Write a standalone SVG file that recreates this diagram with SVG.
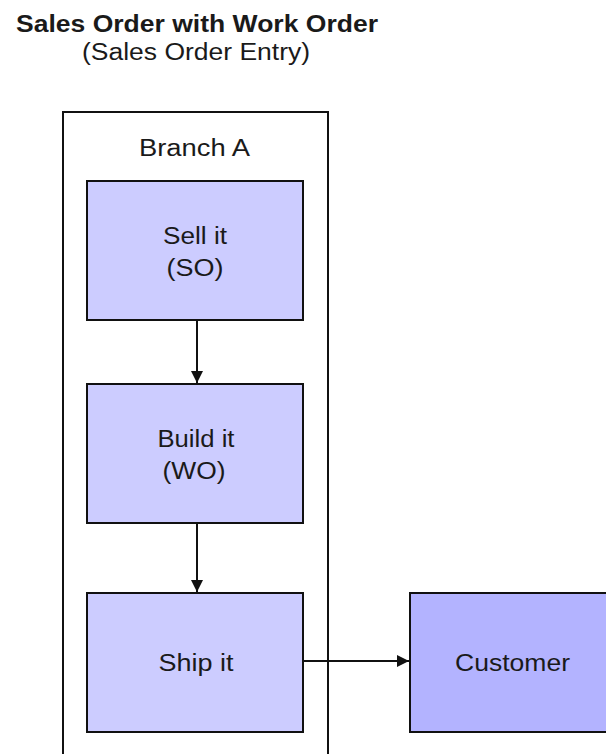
<svg xmlns="http://www.w3.org/2000/svg" width="606" height="754" viewBox="0 0 606 754">
<style>
text{font-family:"Liberation Sans",Arial,sans-serif;font-size:23px;fill:#1a1a1a;}
.title{font-weight:bold;font-size:23px;}
.box{fill:#CCCCFF;stroke:#111;stroke-width:2;}
.cust{fill:#B3B3FF;stroke:#111;stroke-width:2;}
.frame{fill:none;stroke:#111;stroke-width:2;}
.conn{stroke:#111;stroke-width:2;fill:none;marker-end:url(#arr);}
</style>
<defs>
<marker id="arr" viewBox="0 0 12 12" refX="12" refY="6" markerWidth="12" markerHeight="12" markerUnits="userSpaceOnUse" orient="auto">
<path d="M0,0 L12,6 L0,12 Z" fill="#111"/>
</marker>
</defs>
<rect width="606" height="754" fill="#fff"/>
<g id="title">
<text class="title" x="16" y="32" textLength="362" lengthAdjust="spacingAndGlyphs">Sales Order with Work Order</text>
<text x="196" y="60" text-anchor="middle" textLength="228" lengthAdjust="spacingAndGlyphs">(Sales Order Entry)</text>
</g>
<g id="branchA">
<polyline class="frame" points="63,760 63,112 328,112 328,760"/>
<text x="194.5" y="156" text-anchor="middle" textLength="111" lengthAdjust="spacingAndGlyphs">Branch A</text>
</g>
<g id="sell">
<rect class="box" x="87" y="181" width="216" height="139"/>
<text x="195" y="244" text-anchor="middle" textLength="64" lengthAdjust="spacingAndGlyphs">Sell it</text>
<text x="195" y="276" text-anchor="middle" textLength="57" lengthAdjust="spacingAndGlyphs">(SO)</text>
</g>
<g id="build">
<rect class="box" x="87" y="384" width="216" height="139"/>
<text x="196" y="447" text-anchor="middle" textLength="77" lengthAdjust="spacingAndGlyphs">Build it</text>
<text x="194" y="479" text-anchor="middle" textLength="63" lengthAdjust="spacingAndGlyphs">(WO)</text>
</g>
<g id="ship">
<rect class="box" x="87" y="593" width="216" height="139"/>
<text x="196" y="671" text-anchor="middle" textLength="75" lengthAdjust="spacingAndGlyphs">Ship it</text>
</g>
<g id="customer">
<rect class="cust" x="410" y="593" width="210" height="139"/>
<text x="512.5" y="671" text-anchor="middle" textLength="115" lengthAdjust="spacingAndGlyphs">Customer</text>
</g>
<g id="connectors">
<line class="conn" x1="197" y1="320" x2="197" y2="383"/>
<line class="conn" x1="197" y1="523" x2="197" y2="592"/>
<line class="conn" x1="303" y1="661" x2="409" y2="661"/>
</g>
</svg>
